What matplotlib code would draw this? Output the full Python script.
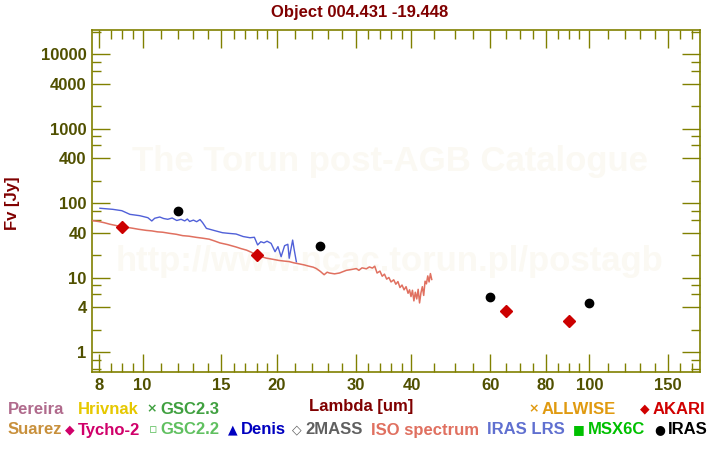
import matplotlib
matplotlib.use("Agg")
import matplotlib.pyplot as plt
from matplotlib.ticker import FixedLocator, NullFormatter

# ISO spectrum (um, Jy)
iso_wave = [7.73, 8.0, 8.2, 8.45, 8.7, 9.0, 9.25, 9.5, 9.8, 10.2, 10.5, 10.8, 11.1, 11.5,
            11.9, 12.3, 12.7, 13.2, 13.6, 14.1, 14.5, 14.9, 15.5, 16.2, 16.6, 17.1, 17.5,
            17.9, 18.4, 18.9, 19.5, 20.2, 20.7, 21.3, 21.8, 22.4, 23.0, 23.6, 24.1, 24.5,
            25.0, 25.5, 25.9, 26.2, 26.9, 27.6, 28.1, 28.6, 29.3, 30.1, 30.5, 31.0, 31.7,
            32.2, 32.7, 33.1, 33.5, 34.0, 34.4, 34.8, 35.2, 35.6, 36.0, 36.5, 36.9, 37.3,
            37.7, 38.1, 38.5, 38.9, 39.3, 39.6, 39.9, 40.2, 40.5, 40.8, 41.1, 41.4, 41.7,
            42.0, 42.3, 42.6, 42.9, 43.2, 43.5, 43.8, 44.1, 44.4]
iso_flux = [58.5, 56.8, 55.0, 52.4, 50.5, 48.3, 47.5, 46.3, 44.8, 43.3, 42.6, 41.4, 40.9, 39.5,
            38.4, 36.8, 36.2, 34.9, 34.1, 33.0, 31.2, 29.4, 27.9, 25.9, 24.7, 23.5, 22.1,
            20.4, 19.4, 18.4, 17.8, 17.1, 16.8, 16.5, 15.9, 15.4, 14.9, 14.3, 13.9, 13.3,
            12.2, 11.0, 11.9, 11.6, 11.3, 11.6, 12.1, 12.6, 12.9, 13.3, 12.6, 13.6, 13.2,
            14.0, 13.5, 14.3, 11.6, 12.3, 10.5, 11.2, 9.6, 10.1, 8.8, 9.4, 8.2, 8.9,
            7.4, 8.0, 6.9, 7.6, 6.2, 6.9, 5.6, 6.8, 4.9, 6.4, 5.2, 7.0, 4.6,
            6.3, 7.6, 5.8, 9.0, 8.3, 10.6, 8.8, 11.4, 9.5]

# IRAS LRS spectrum
lrs_wave = [8.03, 8.58, 8.99, 9.37, 9.86, 10.28, 10.49, 10.65, 10.93, 11.15, 11.39, 11.65,
            11.93, 12.2, 12.43, 12.6, 12.75, 13.0, 13.22, 13.45, 13.63, 13.9, 14.5, 15.1,
            15.6, 16.2, 16.8, 17.4, 17.8, 18.1, 18.4, 18.7, 19.0, 19.4, 19.8, 20.1, 20.43,
            20.8, 21.15, 21.3, 21.68, 21.85, 22.1]
lrs_flux = [85.8, 83.0, 79.6, 71.1, 68.2, 64.1, 57.9, 63.0, 65.5, 62.5, 61.0, 63.5,
            58.8, 61.0, 58.0, 61.5, 57.0, 59.5, 56.6, 60.5, 55.0, 46.1, 43.0, 40.3,
            39.5, 38.7, 35.8, 34.5, 35.0, 27.6, 30.5, 29.5, 31.0, 29.0, 22.4, 26.2, 19.2,
            27.0, 28.2, 18.3, 32.1, 24.0, 16.4]

# photometry
iras_wave = [12, 25, 60, 100]
iras_flux = [78, 26.5, 5.6, 4.6]
akari_wave = [9, 18, 65, 90]
akari_flux = [47.7, 20.0, 3.6, 2.65]

x_major = [8, 10, 15, 20, 30, 40, 60, 80, 100, 150]
x_minor = [8.5, 9, 9.5, 11, 12, 13, 14, 16, 17, 18, 19, 22, 24, 26, 28, 32, 34, 36, 38,
           45, 50, 55, 65, 70, 75, 85, 90, 95, 110, 120, 130, 140, 160, 170]
y_major = [1, 4, 10, 40, 100, 400, 1000, 4000, 10000]
y_minor = [0.6, 0.8, 2, 6, 8, 20, 60, 80, 200, 600, 800, 2000, 6000, 8000, 20000]

# legend rows: (marker, label, colour)
legend_row1 = [("", "Pereira", "#b06a8c"), ("", "Hrivnak", "#e6c800"),
               ("\u00d7", "GSC2.3", "#40a040"), ("\u00d7", "ALLWISE", "#e09a10"),
               ("\u25c6", "AKARI", "#d00000")]
legend_row2 = [("", "Suarez", "#c8903c"), ("\u25c6", "Tycho-2", "#d0006a"),
               ("\u25ab", "GSC2.2", "#60c060"), ("\u25b2", "Denis", "#0000c0"),
               ("\u25c7", "2MASS", "#606060"), ("", "ISO spectrum", "#e07060"),
               ("", "IRAS LRS", "#6070d0"), ("\u25a0", "MSX6C", "#00c000"),
               ("\u25cf", "IRAS", "#000000")]
# text start x (pixels) for each entry
row1_x = [8, 78, 160, 542, 653]
row2_x = [8, 78, 160, 241, 305, 371, 487, 588, 668]

FONT = ["Liberation Sans", "DejaVu Sans"]
OLIVE = "#808000"
TICKTXT = "#505000"
DARKRED = "#800000"
WATER = "#fbf9f3"

plt.rcParams["font.family"] = FONT
plt.rcParams["font.weight"] = "bold"

W, H = 720.0, 450.0
fig = plt.figure(figsize=(7.2, 4.5), dpi=100)
ax = fig.add_axes([92.3 / W, 1 - 372 / H, (699.5 - 92.3) / W, (372 - 30) / H])

# faint watermark, behind the data
ax.text(390 / W, 1 - 162 / H, "The Torun post-AGB Catalogue", fontsize=25, color=WATER,
        ha="center", va="center", fontweight="bold", transform=fig.transFigure, zorder=1)
ax.text(390 / W, 1 - 262 / H, "http://www.ncac.torun.pl/postagb", fontsize=25, color=WATER,
        ha="center", va="center", fontweight="bold", transform=fig.transFigure, zorder=1)

ax.plot(lrs_wave, lrs_flux, color="#5060d8", lw=1.0, zorder=3)
ax.plot(iso_wave, iso_flux, color="#e07060", lw=1.1, zorder=3)
ax.plot(iras_wave, iras_flux, "o", color="black", ms=6, zorder=4)
ax.plot(akari_wave, akari_flux, "D", color="#cc0000", ms=6, zorder=4)

ax.set_xscale("log")
ax.set_yscale("log")
ax.set_xlim(7.72, 176.5)
ax.set_ylim(0.544, 21200)

ax.xaxis.set_major_locator(FixedLocator(x_major))
ax.xaxis.set_minor_locator(FixedLocator(x_minor))
ax.yaxis.set_major_locator(FixedLocator(y_major))
ax.yaxis.set_minor_locator(FixedLocator(y_minor))
ax.set_xticklabels([str(v) for v in x_major])
ax.set_yticklabels([str(v) for v in y_major])
ax.xaxis.set_minor_formatter(NullFormatter())
ax.yaxis.set_minor_formatter(NullFormatter())

ax.tick_params(which="both", direction="in", top=True, right=True, color=OLIVE,
               labelcolor=TICKTXT, labelsize=12)
ax.tick_params(which="major", length=13, width=1.0, pad=4)
ax.tick_params(which="minor", length=6.7, width=1.0)
for lab in ax.get_xticklabels() + ax.get_yticklabels():
    lab.set_fontweight("bold")
for sp in ax.spines.values():
    sp.set_color(OLIVE)
    sp.set_linewidth(1.2)

fig.text(0.5, 1 - 12 / H, "Object 004.431 -19.448", ha="center", va="center",
         fontsize=12, color=DARKRED, fontweight="bold")
fig.text(361 / W, 1 - 406 / H, "Lambda [um]", ha="center", va="center",
         fontsize=12, color=DARKRED, fontweight="bold")
fig.text(13 / W, 1 - 203 / H, "Fv [Jy]", ha="center", va="center", rotation=90,
         fontsize=12, color=DARKRED, fontweight="bold")

for entries, xs, ypix in ((legend_row1, row1_x, 409), (legend_row2, row2_x, 430)):
    for (mk, label, col), x0 in zip(entries, xs):
        if mk:
            fig.text((x0 - 3) / W, 1 - ypix / H, mk, ha="right", va="center",
                     fontsize=9, color=col, family="DejaVu Sans")
        fig.text(x0 / W, 1 - ypix / H, label, ha="left", va="center",
                 fontsize=12, color=col, fontweight="bold")

fig.savefig("out.png", dpi=100)
